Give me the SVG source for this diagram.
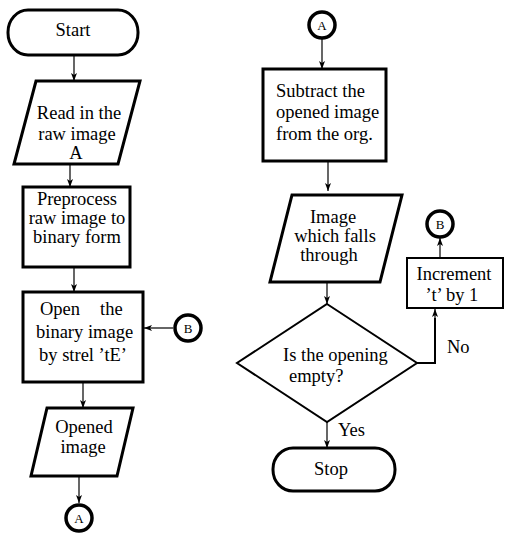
<svg xmlns="http://www.w3.org/2000/svg" width="505" height="536" viewBox="0 0 505 536">
<defs>
<marker id="ah" markerWidth="8" markerHeight="6" refX="8" refY="3" orient="auto" markerUnits="userSpaceOnUse">
<path d="M0,0 L8,3 L0,6 L2,3 Z" fill="#000"/>
</marker>
<style>
.s{fill:#fff;stroke:#000;stroke-width:3}
.d{fill:#fff;stroke:#000;stroke-width:2}
.c{fill:#fff;stroke:#000;stroke-width:3.5}
.l{fill:none;stroke:#000;stroke-width:1.2;marker-end:url(#ah)}
text{font-family:"Liberation Serif",Tinos,"Times New Roman","DejaVu Serif",serif;font-size:18.5px;fill:#000}
.m{text-anchor:middle}
.sm{font-size:13px}
</style>
</defs>
<rect width="505" height="536" fill="#fff"/>
<g id="connectors">
<line class="l" x1="74" y1="56" x2="74" y2="81"/>
<line class="l" x1="70" y1="164" x2="70" y2="187"/>
<line class="l" x1="74" y1="267" x2="74" y2="292"/>
<line class="l" x1="173" y1="328" x2="144" y2="328"/>
<line class="l" x1="83" y1="382" x2="83" y2="408"/>
<line class="l" x1="79" y1="476" x2="79" y2="503"/>
<line class="l" x1="322" y1="39" x2="322" y2="69"/>
<line class="l" x1="328" y1="162" x2="328" y2="191"/>
<line class="l" x1="327" y1="282" x2="327" y2="304"/>
<line class="l" x1="327" y1="422" x2="327" y2="448"/>
<polyline fill="none" stroke="#000" stroke-width="2" points="417,363 435,363 435,318"/>
<line class="l" x1="435" y1="320" x2="435" y2="309"/>
<line class="l" x1="440" y1="258" x2="440" y2="238"/>
<text x="447" y="353">No</text>
<text x="338" y="436">Yes</text>
</g>
<g id="start">
<rect class="s" x="8" y="10" width="130" height="45" rx="20" ry="22"/>
<text class="m" x="73" y="36">Start</text>
</g>
<g id="read">
<polygon class="s" points="36,81 140,81 118,164 14,164"/>
<text class="m" x="79" y="119">Read in the</text>
<text class="m" x="77" y="140">raw image</text>
<text class="m" x="76" y="159">A</text>
</g>
<g id="preprocess">
<rect class="s" x="23" y="187" width="107" height="80"/>
<text class="m" x="77" y="205">Preprocess</text>
<text class="m" x="77" y="224">raw image to</text>
<text class="m" x="77" y="243">binary form</text>
</g>
<g id="open">
<rect class="s" x="23" y="292" width="120" height="90"/>
<text x="40" y="315">Open</text>
<text x="100" y="315">the</text>
<text x="36" y="338">binary image</text>
<text x="39" y="361">by strel ’tE’</text>
</g>
<g id="connB1">
<circle class="c" cx="188" cy="328" r="13"/>
<text class="m sm" x="188" y="333">B</text>
</g>
<g id="opened">
<polygon class="s" points="47,408 133,408 117,476 31,476"/>
<text class="m" x="84" y="433">Opened</text>
<text class="m" x="83" y="453">image</text>
</g>
<g id="connA1">
<circle class="c" cx="79" cy="518" r="13"/>
<text class="m sm" x="79" y="523">A</text>
</g>
<g id="connA2">
<circle class="c" cx="322" cy="25" r="13"/>
<text class="m sm" x="322" y="30">A</text>
</g>
<g id="subtract">
<rect class="s" x="263" y="69" width="123" height="92"/>
<text x="276" y="97">Subtract the</text>
<text x="276" y="118">opened image</text>
<text x="276" y="140">from the org.</text>
</g>
<g id="fallthrough">
<polygon class="s" points="292,195 402,195 380,282 270,282"/>
<text class="m" x="333" y="223">Image</text>
<text class="m" x="335" y="242">which falls</text>
<text class="m" x="329" y="261">through</text>
</g>
<g id="decision">
<polygon class="d" points="327,304 417,363 327,422 237,363"/>
<text x="283" y="361">Is the opening</text>
<text x="289" y="382">empty?</text>
</g>
<g id="increment">
<rect class="d" x="407" y="258" width="96" height="50"/>
<text class="m" x="454" y="280">Increment</text>
<text class="m" x="452" y="301">’t’ by 1</text>
</g>
<g id="connB2">
<circle class="c" cx="440" cy="224" r="13"/>
<text class="m sm" x="440" y="229">B</text>
</g>
<g id="stop">
<rect class="s" x="273" y="448" width="122" height="43" rx="20" ry="21"/>
<text class="m" x="331" y="475">Stop</text>
</g>
</svg>
